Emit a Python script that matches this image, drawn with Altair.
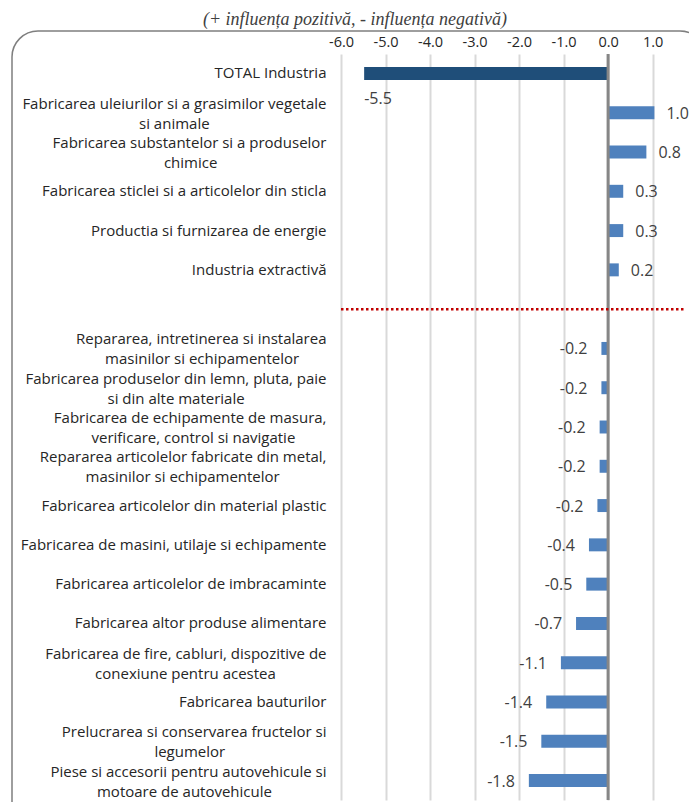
import altair as alt
import pandas as pd

# ---- data (top to bottom); " " is the empty spacer slot under the red dotted line
categories = [
    "TOTAL Industria",
    "Fabricarea uleiurilor si a grasimilor vegetale\nsi animale",
    "Fabricarea substantelor si a produselor\nchimice",
    "Fabricarea sticlei si a articolelor din sticla",
    "Productia si furnizarea de energie",
    "Industria extractivă",
    " ",
    "Repararea, intretinerea si instalarea\nmasinilor si echipamentelor",
    "Fabricarea produselor din lemn, pluta,  paie\nsi din alte materiale",
    "Fabricarea de echipamente de masura,\nverificare, control si navigatie",
    "Repararea articolelor fabricate din metal,\nmasinilor si echipamentelor",
    "Fabricarea articolelor din material plastic",
    "Fabricarea de masini, utilaje si echipamente",
    "Fabricarea articolelor de imbracaminte",
    "Fabricarea altor produse alimentare",
    "Fabricarea de fire, cabluri, dispozitive de\nconexiune pentru acestea",
    "Fabricarea bauturilor",
    "Prelucrarea si conservarea fructelor si\nlegumelor",
    "Piese si accesorii pentru autovehicule si\nmotoare de autovehicule",
]
values = [-5.48, 1.04, 0.86, 0.34, 0.34, 0.24, None,
          -0.15, -0.15, -0.19, -0.19, -0.24, -0.43, -0.49, -0.72,
          -1.06, -1.39, -1.50, -1.78]
value_labels = ["-5.5", "1.0", "0.8", "0.3", "0.3", "0.2", "",
                "-0.2", "-0.2", "-0.2", "-0.2", "-0.2", "-0.4", "-0.5", "-0.7",
                "-1.1", "-1.4", "-1.5", "-1.8"]
x_ticks = [-6.0, -5.0, -4.0, -3.0, -2.0, -1.0, 0.0, 1.0]
x_domain = [-6.0, 1.75]
title_text = "(+ influența pozitivă, - influența negativă)"


# centre the second line of a two-line label under the first (as in the original),
# by padding it on the right with no-break spaces (rough glyph-width estimate);
# a final zero-width space keeps the padding from being trimmed
def _w(s):
    tot = 0.0
    for ch in s:
        if ch in "il j.,'":
            tot += 0.26
        elif ch in "ftr":
            tot += 0.38
        elif ch == "m":
            tot += 0.93
        elif ch.isupper():
            tot += 0.64
        else:
            tot += 0.56
    return tot


def centre_lines(label):
    if "\n" not in label:
        return label
    a, b = label.split("\n")
    n = max(0, round((_w(a) - _w(b)) / 2 / 0.26))
    return a + "\n" + b + "\u00a0" * n + "\u200b"


display = [centre_lines(c) for c in categories]

rows = []
for c, v, l in zip(display, values, value_labels):
    if v is None:
        continue
    grp = "total" if c == "TOTAL Industria" else ("pos" if v > 0 else "neg")
    rows.append({"cat": c, "value": v, "label": l, "grp": grp})
df = pd.DataFrame(rows)

FONT = "Open Sans"
y_scale = alt.Scale(domain=display, paddingInner=0.67, paddingOuter=0.33)
x_scale = alt.Scale(domain=x_domain, nice=False, zero=False)

base = alt.Chart(df)

bars = base.mark_bar().encode(
    x=alt.X("value:Q", scale=x_scale,
            axis=alt.Axis(orient="top", values=x_ticks, title=None, domain=False,
                          ticks=False, grid=True, gridColor="#d9d9d9", gridWidth=2,
                          labelFont=FONT, labelFontSize=14.5, labelColor="#262626",
                          labelPadding=5, labelFlush=False,
                          labelExpr="datum.value < 0 ? '-' + format(-datum.value, '.1f') : format(datum.value, '.1f')")),
    x2=alt.datum(0),
    y=alt.Y("cat:N", sort=None, scale=y_scale,
            axis=alt.Axis(title=None, domain=False, ticks=False, grid=False,
                          labelFont=FONT, labelFontSize=15, labelColor="#262626",
                          labelPadding=15, labelLimit=0, labelLineHeight=20,
                          labelOffset={"condition": {"test": "indexof(datum.value, '\\n') >= 0", "value": -9},
                                       "value": 0},
                          labelExpr="split(datum.label, '\\n')")),
    color=alt.Color("grp:N", legend=None,
                    scale=alt.Scale(domain=["total", "pos", "neg"],
                                    range=["#1F4E79", "#4F81BD", "#4F81BD"])),
)

zero_line = alt.Chart(pd.DataFrame({"x": [0.0]})).mark_rule(
    color="#868686", strokeWidth=3).encode(x=alt.X("x:Q", scale=x_scale))

red_line = alt.Chart(pd.DataFrame({"cat": [" "], "x": [x_domain[0]], "x2": [x_domain[1]]})).mark_rule(
    color="#C00000", strokeWidth=2.5, strokeDash=[2.5, 2.5]).encode(
    x=alt.X("x:Q", scale=x_scale), x2="x2:Q", y=alt.Y("cat:N", sort=None, scale=y_scale))

txt_kw = dict(font=FONT, fontSize=16, color="#404040", baseline="middle")
pos_labels = base.transform_filter("datum.grp == 'pos'").mark_text(align="left", dx=12, dy=1, **txt_kw).encode(
    x="value:Q", y=alt.Y("cat:N", sort=None), text="label:N")
neg_labels = base.transform_filter("datum.grp == 'neg'").mark_text(align="right", dx=-14, dy=1, **txt_kw).encode(
    x="value:Q", y=alt.Y("cat:N", sort=None), text="label:N")
tot_labels = base.transform_filter("datum.grp == 'total'").mark_text(align="left", dx=0, dy=26, **txt_kw).encode(
    x="value:Q", y=alt.Y("cat:N", sort=None), text="label:N")

border = alt.Chart(pd.DataFrame({"a": [0]})).mark_rect(
    cornerRadius=26, fillOpacity=0, stroke="#7f7f7f", strokeWidth=1.5).encode(
    x=alt.value(-329), x2=alt.value(365), y=alt.value(-23), y2=alt.value(790))

title = alt.Chart(pd.DataFrame({"a": [0]})).mark_text(
    text=title_text, font="Liberation Serif", fontStyle="italic", fontSize=18,
    color="#404040", align="center", baseline="alphabetic").encode(
    x=alt.value(14), y=alt.value(-29))

chart = alt.layer(bars, zero_line, red_line, pos_labels, neg_labels, tot_labels, border, title).properties(
    width=345, height=746,
    padding={"left": 333, "top": 46, "right": 3, "bottom": 2},
    autosize=alt.AutoSizeParams(type="none"),
).configure_view(stroke=None)

chart.save("out.html", embed_options={"renderer": "svg", "actions": False})
